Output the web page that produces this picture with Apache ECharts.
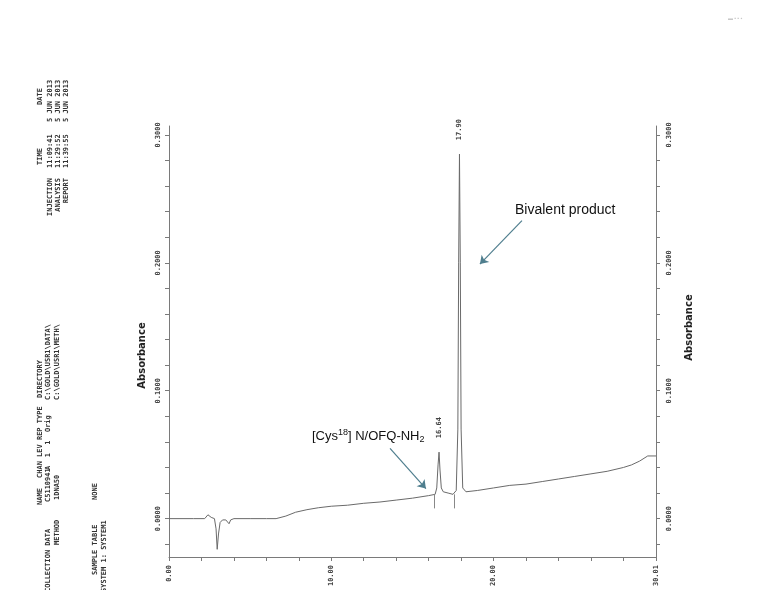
<!DOCTYPE html>
<html><head><meta charset="utf-8">
<script src="https://cdn.jsdelivr.net/npm/echarts@6/dist/echarts.min.js"></script>
<style>html,body{margin:0;padding:0;background:#fff}#c{width:760px;height:590px}</style>
</head><body><div id="c"></div>
<script>
// Retention time (min)
const times = [0.0,1.5,2.2,2.4,2.6,2.8,2.9,2.97,3.05,3.15,3.3,3.5,3.7,3.8,4.0,5.0,6.0,6.6,7.2,7.8,8.5,9.2,10.0,11.0,12.0,13.0,14.0,15.0,16.0,16.4,16.5,16.58,16.64,16.70,16.78,16.9,17.2,17.5,17.7,17.8,17.85,17.90,17.95,18.0,18.1,18.3,19.0,20.0,21.0,22.0,23.0,24.0,25.0,26.0,27.0,28.0,28.5,29.0,29.5,30.01];
// Absorbance
const absorbance = [0.000,0.000,0.000,0.003,0.001,0.000,-0.008,-0.024,-0.012,-0.003,-0.001,-0.001,-0.004,-0.001,0.000,0.000,0.000,0.000,0.002,0.005,0.007,0.0085,0.0097,0.0105,0.012,0.013,0.0145,0.016,0.018,0.019,0.024,0.042,0.052,0.038,0.024,0.021,0.020,0.019,0.022,0.070,0.200,0.285,0.200,0.070,0.024,0.021,0.022,0.024,0.026,0.027,0.029,0.031,0.033,0.035,0.037,0.040,0.042,0.045,0.049,0.049];
// Peak labels
const peakTimes = [16.64, 17.90];
const peakValues = [0.052, 0.285];
const peakLabels = ['16.64', '17.90'];
// Axis ticks
const yTickValues = [-0.02,0,0.02,0.04,0.06,0.08,0.1,0.12,0.14,0.16,0.18,0.2,0.22,0.24,0.26,0.28,0.3];
const yLabelValues = [0, 0.1, 0.2, 0.3];
const xTickValues = [0,2,4,6,8,10,12,14,16,18,20,22,24,26,28,30];
const xLabelValues = [0, 10, 20, 30.01];
// Integration markers
const markerTimes = [16.33, 17.55];
const markerTop = [0.019, 0.019];
const markerBottom = [0.008, 0.008];
// Annotation arrows (start/end in data coords)
const arrowBivalent = [[21.75, 0.233], [19.16, 0.199]];
const arrowCys = [[13.62, 0.055], [15.83, 0.0235]];

const mono = '"DejaVu Sans Mono", "Liberation Mono", monospace';
const axisCol = '#7a7a7a';
const textCol = '#444';

const chart = echarts.init(document.getElementById('c'));

function yAx(pos) {
  return {
    type: 'value', position: pos, min: -0.03, max: 0.307,
    name: 'Absorbance', nameLocation: 'middle', nameRotate: 90,
    nameGap: pos === 'left' ? 20 : 28,
    nameTextStyle: {fontFamily: '"DejaVu Sans", sans-serif', fontWeight: 'bold', fontSize: 10, color: '#222',
      padding: pos === 'left' ? [0, 0, 0, -28] : [0, 0, 0, 28]},
    axisLine: {show: true, lineStyle: {color: axisCol, width: 1}},
    axisTick: {show: true, length: 4, customValues: yTickValues, lineStyle: {color: axisCol}},
    axisLabel: {show: true, customValues: yLabelValues, rotate: 90, margin: pos === 'left' ? 7 : 10,
      fontFamily: mono, fontSize: 7, fontWeight: 'bold', color: textCol,
      formatter: v => v.toFixed(4)},
    splitLine: {show: false}
  };
}

const texts = [
  // header top-left: [x, y, text, align]
  [40, 105, 'DATE', 'left'], [40, 165, 'TIME', 'left'],
  [50, 122, '5 JUN 2013', 'left'], [58, 122, '5 JUN 2013', 'left'], [66, 122, '5 JUN 2013', 'left'],
  [50, 168, '11:09:41', 'left'], [58, 168, '11:29:52', 'left'], [66, 168, '11:39:55', 'left'],
  [50, 178, 'INJECTION', 'right'], [58, 178, 'ANALYSIS', 'right'], [66, 178, 'REPORT', 'right'],
  // bottom-left block
  [40, 478, 'CHAN LEV REP TYPE  DIRECTORY', 'left'], [40, 505, 'NAME', 'left'],
  [48, 400, 'C:\\GOLD\\USR1\\DATA\\', 'left'], [48, 470, 'A  1  1  Orig', 'left'],
  [48, 502, 'C5110941', 'left'], [48, 592, 'COLLECTION DATA', 'left'],
  [57, 400, 'C:\\GOLD\\USR1\\METH\\', 'left'], [57, 500, '1DNA50', 'left'], [57, 545, 'METHOD', 'left'],
  [95, 500, 'NONE', 'left'], [95, 575, 'SAMPLE TABLE', 'left'],
  [104, 592, 'SYSTEM 1: SYSTEM1', 'left']
];

const graphics = texts.map(t => ({
  type: 'text', x: t[0], y: t[1], rotation: Math.PI / 2,
  style: {text: t[2], fill: '#333', font: 'bold 7px ' + mono,
    align: t[3], verticalAlign: 'middle'}
}));
graphics.push(
  {type: 'text', left: 515, top: 203, style: {text: 'Bivalent product', fill: '#111', font: '14px "Liberation Sans", Arial, sans-serif'}},
  {type: 'text', left: 312, top: 428, style: {
    text: '[Cys{sup|18}] N/OFQ-NH{sub|2}', fill: '#111', font: '13px "Liberation Sans", Arial, sans-serif',
    rich: {sup: {fontSize: 9, verticalAlign: 'top', padding: [0,0,7,0], fontFamily: '"Liberation Sans", Arial, sans-serif', fill: '#111'},
           sub: {fontSize: 9, padding: [7,0,0,0], fontFamily: '"Liberation Sans", Arial, sans-serif', fill: '#111'}}}},
  {type: 'text', left: 728, top: 16, style: {text: '▬ ▪ ▪ ▪', fill: '#c8c8c8', font: '5px sans-serif'}}
);

const arrowStyle = {color: '#4f7e8e', width: 1.2, type: 'solid'};

chart.setOption({
  animation: false,
  backgroundColor: '#fff',
  grid: {left: 169, right: 104, top: 126, bottom: 33, containLabel: false},
  xAxis: {
    type: 'value', min: 0, max: 30.01,
    axisLine: {show: true, onZero: false, lineStyle: {color: axisCol}},
    axisTick: {show: true, length: 4, customValues: xTickValues, lineStyle: {color: axisCol}},
    axisLabel: {show: true, customValues: xLabelValues, rotate: 90, margin: 8,
      fontFamily: mono, fontSize: 7, fontWeight: 'bold', color: textCol,
      formatter: v => v.toFixed(2)},
    splitLine: {show: false}
  },
  yAxis: [yAx('left'), yAx('right')],
  graphic: graphics,
  series: [{
    type: 'line', yAxisIndex: 0,
    data: times.map((t, i) => [t, absorbance[i]]),
    showSymbol: false, symbol: 'none',
    lineStyle: {color: '#6a6a6a', width: 1},
    markPoint: {
      symbol: 'circle', symbolSize: 0,
      data: peakTimes.map((t, i) => ({coord: [t, peakValues[i]], value: peakLabels[i]})),
      label: {show: true, position: 'top', rotate: 90, distance: 14, formatter: p => p.value,
        fontFamily: mono, fontSize: 7, fontWeight: 'bold', color: textCol, align: 'left', verticalAlign: 'middle'}
    },
    markLine: {
      silent: true, animation: false,
      data: [
        [{coord: arrowBivalent[0], symbol: 'none', lineStyle: arrowStyle}, {coord: arrowBivalent[1], symbol: 'arrow', symbolSize: 8}],
        [{coord: arrowCys[0], symbol: 'none', lineStyle: arrowStyle}, {coord: arrowCys[1], symbol: 'arrow', symbolSize: 8}],
        ...markerTimes.map((t, i) => [
          {coord: [t, markerTop[i]], symbol: 'none', lineStyle: {color: '#888', width: 1, type: 'solid'}},
          {coord: [t, markerBottom[i]], symbol: 'none'}])
      ],
      label: {show: false}
    }
  }]
});
</script></body></html>
